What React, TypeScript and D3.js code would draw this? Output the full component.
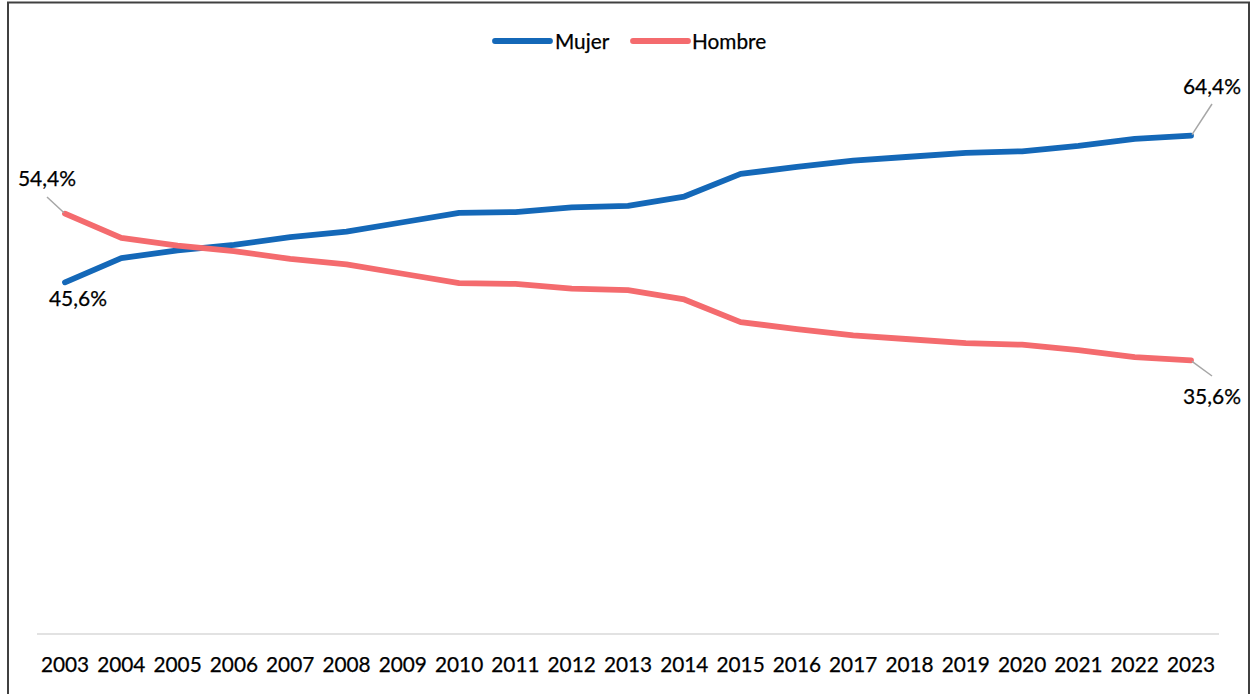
import React from "react";
import * as d3 from "d3";

const years: string[] = ["2003","2004","2005","2006","2007","2008","2009","2010","2011","2012","2013","2014","2015","2016","2017","2018","2019","2020","2021","2022","2023"];
const mujer: number[] = [45.6,48.7,49.7,50.4,51.4,52.1,53.3,54.5,54.6,55.2,55.4,56.6,59.5,60.4,61.2,61.7,62.2,62.4,63.1,64.0,64.4];
const hombre: number[] = [54.4,51.3,50.3,49.6,48.6,47.9,46.7,45.5,45.4,44.8,44.6,43.4,40.5,39.6,38.8,38.3,37.8,37.6,36.9,36.0,35.6];
const seriesNames: string[] = ["Mujer", "Hombre"];

const W = 1254;
const H = 694;
const BLUE = "#1468B8";
const RED = "#F46B6E";
const FONT = "Lato, 'Open Sans', sans-serif";

export default function App() {
  const x = d3.scalePoint<string>().domain(years).range([65, 1191]);
  const y = d3.scaleLinear().domain([0, 80]).range([638, 14]);
  const line = d3
    .line<number>()
    .x((_, i) => x(years[i]) as number)
    .y((d) => y(d));
  const colors = [BLUE, RED];
  const data = [mujer, hombre];
  const first = 0;
  const last = years.length - 1;
  const x0 = x(years[first]) as number;
  const x1 = x(years[last]) as number;
  const fmt = (v: number) => v.toFixed(1).replace(".", ",") + "%";

  const legendItems = [
    { name: seriesNames[0], color: BLUE, sx: 495, tx: 555 },
    { name: seriesNames[1], color: RED, sx: 633, tx: 692 },
  ];

  const textStyle = { stroke: "#000", strokeWidth: 0.25 } as React.CSSProperties;

  return (
    <svg
      width={W}
      height={H}
      style={{ position: "absolute", left: 0, top: 0, display: "block", background: "#fff" }}
      fontFamily={FONT}
    >
      <rect x={8} y={2.5} width={1241} height={720} fill="#fff" stroke="#404040" strokeWidth={2} />
      <line x1={37} x2={1219} y1={634} y2={634} stroke="#d9d9d9" strokeWidth={1.5} />
      {years.map((yr) => (
        <text key={yr} x={x(yr)} y={672} textAnchor="middle" fontSize={20.8} fill="#000" style={textStyle}>
          {yr}
        </text>
      ))}
      {data.map((d, i) => (
        <path
          key={i}
          d={line(d) || ""}
          fill="none"
          stroke={colors[i]}
          strokeWidth={5.8}
          strokeLinejoin="round"
          strokeLinecap="round"
        />
      ))}
      {/* leader lines */}
      <line x1={47} y1={197} x2={x0 - 1} y2={y(hombre[first]) - 1} stroke="#a6a6a6" strokeWidth={1.5} />
      <line x1={1212} y1={104} x2={x1 + 1} y2={y(mujer[last]) - 1} stroke="#a6a6a6" strokeWidth={1.5} />
      <line x1={x1 + 1} y1={y(hombre[last]) + 1} x2={1212} y2={376} stroke="#a6a6a6" strokeWidth={1.5} />
      {/* data labels */}
      <text x={47} y={186} textAnchor="middle" fontSize={21} fill="#000" style={textStyle}>{fmt(hombre[first])}</text>
      <text x={78} y={306} textAnchor="middle" fontSize={21} fill="#000" style={textStyle}>{fmt(mujer[first])}</text>
      <text x={1212} y={94} textAnchor="middle" fontSize={21} fill="#000" style={textStyle}>{fmt(mujer[last])}</text>
      <text x={1212} y={404} textAnchor="middle" fontSize={21} fill="#000" style={textStyle}>{fmt(hombre[last])}</text>
      {/* legend */}
      {legendItems.map((it) => (
        <g key={it.name}>
          <line x1={it.sx} x2={it.sx + 55} y1={41} y2={41} stroke={it.color} strokeWidth={5.8} strokeLinecap="round" />
          <text x={it.tx} y={48.5} fontSize={20.8} fill="#000" style={textStyle}>{it.name}</text>
        </g>
      ))}
    </svg>
  );
}
